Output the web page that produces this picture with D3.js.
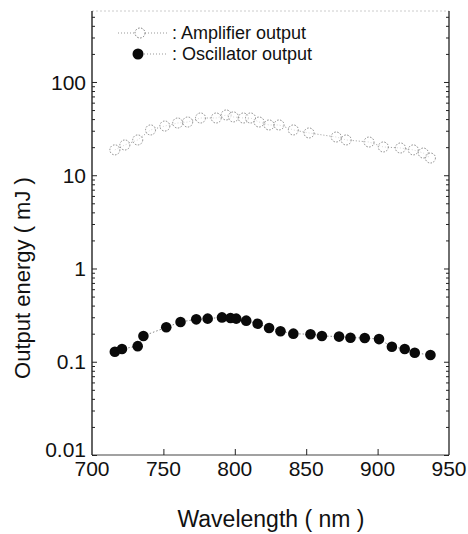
<!DOCTYPE html>
<html>
<head>
<meta charset="utf-8">
<script src="https://cdn.jsdelivr.net/npm/d3@7"></script>
<style>
  body { margin: 0; background: #fff; }
  text { font-family: "Liberation Sans", Arial, sans-serif; fill: #111; }
</style>
</head>
<body>
<div id="chart"></div>
<script>
// wavelength (nm) and energy (mJ)
var ampWl  = [716, 723, 732, 741, 751, 760, 767, 776, 787, 794, 799, 806, 811, 817, 824, 831, 841, 852, 871, 878, 894, 904, 916, 925, 932, 937];
var ampVal = [18.7, 21.1, 23.9, 30.6, 33.7, 36.3, 37.2, 41.1, 41.1, 44.3, 42.2, 41.1, 41.1, 37.2, 34.6, 34.6, 30.6, 28.4, 25.7, 23.9, 22.7, 20.1, 19.6, 18.7, 17.3, 15.3];

var oscWl  = [716, 721, 732, 736, 752, 762, 773, 781, 791, 797, 801, 808, 816, 824, 832, 841, 853, 861, 873, 881, 891, 901, 910, 919, 926, 937];
var oscVal = [0.128, 0.137, 0.147, 0.189, 0.234, 0.267, 0.285, 0.290, 0.299, 0.294, 0.290, 0.276, 0.256, 0.230, 0.212, 0.200, 0.197, 0.189, 0.186, 0.181, 0.180, 0.175, 0.145, 0.137, 0.125, 0.118];

var xTicks = [700, 750, 800, 850, 900, 950];
var yTicks = [0.01, 0.1, 1, 10, 100];
var yTickLabels = ["0.01", "0.1", "1", "10", "100"];

var legendNames = [": Amplifier output", ": Oscillator output"];

var W = 468, H = 534;
var margin = {top: 11, right: 19, bottom: 79, left: 92};

var svg = d3.select("#chart").append("svg")
    .attr("width", W)
    .attr("height", H);

var x = d3.scaleLinear().domain([700, 950]).range([margin.left, W - margin.right]);
var y = d3.scaleLog().domain([0.01, 577]).range([H - margin.bottom, margin.top]);

// minor ticks on log axis
var minor = [];
for (var d = 0.01; d < 600; d *= 10) {
  for (var k = 2; k <= 9; k++) {
    if (d * k < 577) minor.push(d * k);
  }
}

// frame
svg.append("line")
    .attr("x1", x(700)).attr("x2", x(950))
    .attr("y1", y.range()[1]).attr("y2", y.range()[1])
    .attr("stroke", "#ccc").attr("stroke-width", 1)
    .attr("stroke-dasharray", "2,2");
svg.append("line")
    .attr("x1", x(700)).attr("x2", x(950))
    .attr("y1", y.range()[0]).attr("y2", y.range()[0])
    .attr("stroke", "#444").attr("stroke-width", 1.2);
svg.append("line")
    .attr("x1", x(700)).attr("x2", x(700))
    .attr("y1", y.range()[0]).attr("y2", y.range()[1])
    .attr("stroke", "#111").attr("stroke-width", 1.3);
svg.append("line")
    .attr("x1", x(950)).attr("x2", x(950))
    .attr("y1", y.range()[0]).attr("y2", y.range()[1])
    .attr("stroke", "#222").attr("stroke-width", 1.3);

// y ticks, left (inside) and right (inside)
var leftAxis = d3.axisRight(y).tickValues(yTicks).tickSize(5).tickFormat("");
var leftMinor = d3.axisRight(y).tickValues(minor).tickSize(3).tickFormat("");
var rightAxis = d3.axisLeft(y).tickValues(yTicks).tickSize(5).tickFormat("");
var rightMinor = d3.axisLeft(y).tickValues(minor).tickSize(3).tickFormat("");

[[leftAxis, x(700)], [leftMinor, x(700)], [rightAxis, x(950)], [rightMinor, x(950)]].forEach(function(a){
  var g = svg.append("g")
      .attr("transform", "translate(" + a[1] + ",0)")
      .call(a[0]);
  g.select(".domain").remove();
  g.selectAll("line").attr("stroke", "#222");
});

// y labels
svg.selectAll("text.ylab")
    .data(yTicks)
  .enter().append("text")
    .attr("class", "ylab")
    .attr("x", x(700) - 6)
    .attr("y", function(d, i){ return y(d) - (i == 0 ? 6 : 0); })
    .attr("dy", "0.36em")
    .attr("text-anchor", "end")
    .style("font-size", "21px")
    .text(function(d, i){ return yTickLabels[i]; });

// x ticks
var xAxis = d3.axisTop(x).tickValues(xTicks.slice(1, -1)).tickSize(6).tickFormat("");
var gx = svg.append("g")
    .attr("transform", "translate(0," + y.range()[0] + ")")
    .call(xAxis);
gx.select(".domain").remove();
gx.selectAll("line").attr("stroke", "#222");

svg.selectAll("text.xlab")
    .data(xTicks)
  .enter().append("text")
    .attr("class", "xlab")
    .attr("x", function(d){ return x(d); })
    .attr("y", y.range()[0] + 21)
    .attr("text-anchor", "middle")
    .style("font-size", "21px")
    .text(function(d){ return d; });

// titles
svg.append("text")
    .attr("x", 271)
    .attr("y", 527)
    .attr("text-anchor", "middle")
    .style("font-size", "23px")
    .text("Wavelength ( nm )");

svg.append("text")
    .attr("transform", "translate(30,278) rotate(-90)")
    .attr("text-anchor", "middle")
    .style("font-size", "22px")
    .text("Output energy ( mJ )");

// data
var ampData = ampWl.map(function(w, i){ return {x: w, y: ampVal[i]}; });
var oscData = oscWl.map(function(w, i){ return {x: w, y: oscVal[i]}; });

var line = d3.line()
    .x(function(d){ return x(d.x); })
    .y(function(d){ return y(d.y); });

svg.append("path")
    .datum(ampData)
    .attr("d", line)
    .attr("fill", "none")
    .attr("stroke", "#999")
    .attr("stroke-width", 1)
    .attr("stroke-dasharray", "1,2");

svg.selectAll("circle.amp")
    .data(ampData)
  .enter().append("circle")
    .attr("class", "amp")
    .attr("cx", function(d){ return x(d.x); })
    .attr("cy", function(d){ return y(d.y); })
    .attr("r", 5)
    .attr("fill", "#fff")
    .attr("fill-opacity", 0.6)
    .attr("stroke", "#888")
    .attr("stroke-width", 1)
    .attr("stroke-dasharray", "1.5,1.5");

svg.append("path")
    .datum(oscData)
    .attr("d", line)
    .attr("fill", "none")
    .attr("stroke", "#888")
    .attr("stroke-width", 1)
    .attr("stroke-dasharray", "1.5,2");

svg.selectAll("circle.osc")
    .data(oscData)
  .enter().append("circle")
    .attr("class", "osc")
    .attr("cx", function(d){ return x(d.x); })
    .attr("cy", function(d){ return y(d.y); })
    .attr("r", 5.3)
    .attr("fill", "#0a0a0a");

// legend
var legY = [33, 54];
svg.append("line")
    .attr("x1", 118).attr("x2", 168)
    .attr("y1", legY[0]).attr("y2", legY[0])
    .attr("stroke", "#999").attr("stroke-dasharray", "1,2");
svg.append("circle")
    .attr("cx", 140).attr("cy", legY[0]).attr("r", 5)
    .attr("fill", "#fff").attr("stroke", "#777")
    .attr("stroke-dasharray", "1.5,1.5");
svg.append("line")
    .attr("x1", 138).attr("x2", 168)
    .attr("y1", legY[1]).attr("y2", legY[1])
    .attr("stroke", "#999").attr("stroke-dasharray", "1,2");
svg.append("circle")
    .attr("cx", 138).attr("cy", legY[1]).attr("r", 5.5)
    .attr("fill", "#0a0a0a");

svg.selectAll("text.leg")
    .data(legendNames)
  .enter().append("text")
    .attr("class", "leg")
    .attr("x", 172)
    .attr("y", function(d, i){ return legY[i]; })
    .attr("dy", "0.36em")
    .style("font-size", "18px")
    .text(function(d){ return d; });
</script>
</body>
</html>
